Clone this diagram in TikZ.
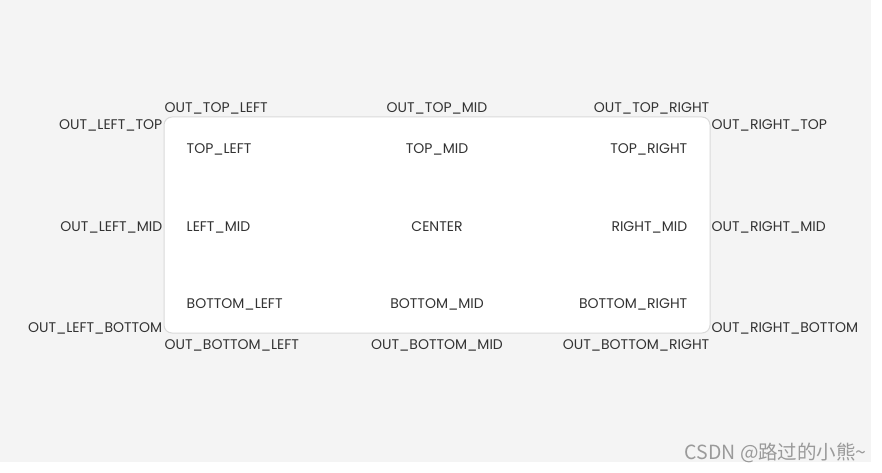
\documentclass[tikz,border=0pt]{standalone}
\usepackage{fontspec}
\setmainfont{Poppins}
\newfontfamily\cjkfont{Noto Sans CJK SC}
\definecolor{bggray}{HTML}{F4F4F4}
\definecolor{edgegray}{HTML}{DADADA}
\definecolor{txtgray}{HTML}{333333}
\definecolor{markgray}{HTML}{9A9A9A}
\tikzset{
  card/.style={draw=edgegray, line width=1pt, fill=white, rounded corners=8pt,
    minimum width=546pt, minimum height=216pt, inner sep=0pt},
  lbl/.style={text=txtgray, font=\fontsize{14}{16}\selectfont, inner sep=1pt, yshift=-2pt},
}
\begin{document}
\begin{tikzpicture}[x=1pt, y=-1pt]
  \fill[bggray] (0,0) rectangle (871,462);
  \useasboundingbox (0,0) rectangle (882,473);
  \node[card] (card) at (437,225){};
  % labels outside the card
  \node[lbl, anchor=south west, yshift=3pt] (otl) at (card.north west){OUT\_TOP\_LEFT};
  \node[lbl, anchor=south, yshift=3pt] (otm) at (card.north){OUT\_TOP\_MID};
  \node[lbl, anchor=south east, yshift=3pt] (otr) at (card.north east){OUT\_TOP\_RIGHT};
  \node[lbl, anchor=north east] (olt) at (card.north west){OUT\_LEFT\_TOP};
  \node[lbl, anchor=east] (olm) at (card.west){OUT\_LEFT\_MID};
  \node[lbl, anchor=south east] (olb) at (card.south west){OUT\_LEFT\_BOTTOM};
  \node[lbl, anchor=north west] (ort) at (card.north east){OUT\_RIGHT\_TOP};
  \node[lbl, anchor=west] (orm) at (card.east){OUT\_RIGHT\_MID};
  \node[lbl, anchor=south west] (orb) at (card.south east){OUT\_RIGHT\_BOTTOM};
  \node[lbl, anchor=north west, yshift=-3pt] (obl) at (card.south west){OUT\_BOTTOM\_LEFT};
  \node[lbl, anchor=north, yshift=-3pt] (obm) at (card.south){OUT\_BOTTOM\_MID};
  \node[lbl, anchor=north east, yshift=-3pt] (obr) at (card.south east){OUT\_BOTTOM\_RIGHT};
  % labels inside the card
  \node[lbl, anchor=west, xshift=22pt, yshift=-31pt] (tl) at (card.north west){TOP\_LEFT};
  \node[lbl, yshift=-31pt] (tm) at (card.north){TOP\_MID};
  \node[lbl, anchor=east, xshift=-22pt, yshift=-31pt] (tr) at (card.north east){TOP\_RIGHT};
  \node[lbl, anchor=west, xshift=22pt] (lm) at (card.west){LEFT\_MID};
  \node[lbl] (ct) at (card.center){CENTER};
  \node[lbl, anchor=east, xshift=-22pt] (rm) at (card.east){RIGHT\_MID};
  \node[lbl, anchor=west, xshift=22pt, yshift=31pt] (bl) at (card.south west){BOTTOM\_LEFT};
  \node[lbl, yshift=31pt] (bm) at (card.south){BOTTOM\_MID};
  \node[lbl, anchor=east, xshift=-22pt, yshift=31pt] (br) at (card.south east){BOTTOM\_RIGHT};
  % watermark
  \node[anchor=east, text=markgray, font=\cjkfont\fontsize{19.5}{21}\selectfont, inner sep=0pt] (mark) at (867,453){CSDN @路过的小熊\char`\~};
\end{tikzpicture}
\end{document}
